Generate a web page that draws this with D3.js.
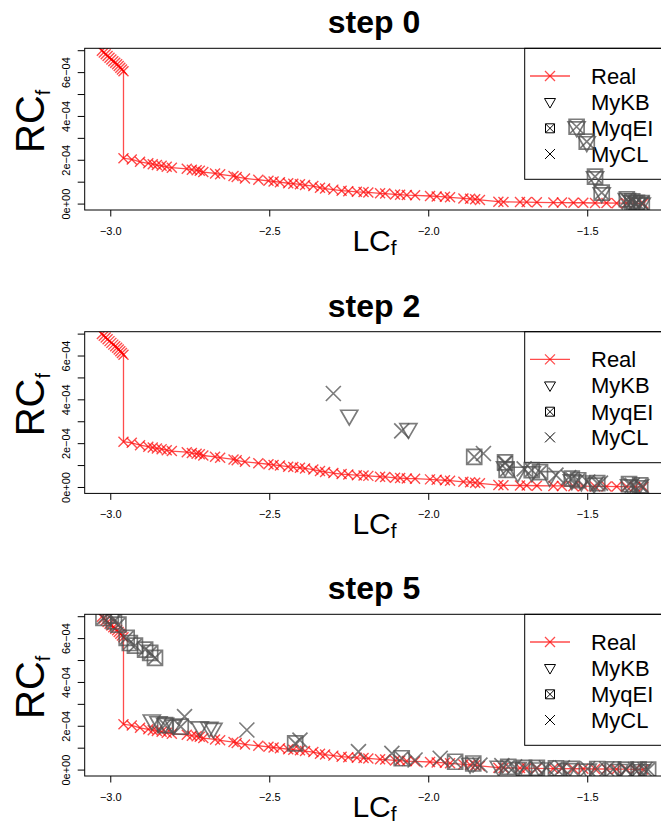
<!DOCTYPE html>
<html>
<head>
<meta charset="utf-8">
<script src="https://cdn.jsdelivr.net/npm/d3@7/dist/d3.min.js"></script>
<style>
  body { margin: 0; background: #fff; }
  svg { display: block; }
</style>
</head>
<body>
<div id="chart"></div>
<script>
// RC values are in units of 1e-04
const realLC = [-3.028, -3.022, -3.016, -3.010, -3.004, -2.998, -2.992, -2.986, -2.980, -2.975, -2.970, -2.965, -2.960,
  -2.960, -2.934, -2.908, -2.882, -2.868, -2.855, -2.840, -2.824, -2.808, -2.761, -2.745, -2.730, -2.720, -2.709,
  -2.672, -2.656, -2.614, -2.604, -2.578, -2.536, -2.504, -2.488, -2.468, -2.442, -2.426, -2.405, -2.389, -2.363,
  -2.342, -2.326, -2.300, -2.274, -2.253, -2.226, -2.205, -2.190, -2.153, -2.137, -2.106, -2.090, -2.069, -2.043,
  -1.996, -1.975, -1.949, -1.933, -1.891, -1.870, -1.854, -1.839, -1.781, -1.765, -1.713, -1.692, -1.660, -1.608,
  -1.581, -1.545, -1.514, -1.477, -1.441, -1.409, -1.378, -1.351, -1.325];
const realRC = [7.00, 6.92, 6.84, 6.76, 6.68, 6.60, 6.52, 6.45, 6.38, 6.30, 6.22, 6.14, 6.06,
  2.09, 2.04, 1.93, 1.86, 1.82, 1.78, 1.75, 1.70, 1.66, 1.61, 1.57, 1.54, 1.52, 1.46,
  1.40, 1.36, 1.28, 1.24, 1.17, 1.11, 1.06, 1.03, 1.00, 0.95, 0.93, 0.90, 0.87, 0.82,
  0.75, 0.71, 0.66, 0.61, 0.59, 0.56, 0.55, 0.53, 0.49, 0.48, 0.44, 0.43, 0.41, 0.40,
  0.37, 0.35, 0.33, 0.31, 0.26, 0.24, 0.22, 0.19, 0.11, 0.10, 0.09, 0.09, 0.08, 0.07,
  0.07, 0.06, 0.06, 0.05, 0.05, 0.04, 0.04, 0.03, 0.03];

// step 0
const step0KB = [[-1.535, 3.53], [-1.503, 2.85], [-1.477, 1.25], [-1.456, 0.52], [-1.377, 0.25], [-1.360, 0.15], [-1.345, 0.08], [-1.330, 0.05]];
const step0qEI = [[-1.535, 3.53], [-1.503, 2.85], [-1.477, 1.25], [-1.456, 0.52], [-1.377, 0.22], [-1.360, 0.12], [-1.345, 0.06], [-1.330, 0.04]];
const step0CL = [[-1.370, 0.10], [-1.350, 0.05], [-1.330, 0.03]];

// step 2
const step2KB = [[-2.250, 3.30], [-2.064, 2.69], [-1.760, 0.95], [-1.720, 0.70], [-1.676, 0.72], [-1.620, 0.50], [-1.550, 0.35], [-1.520, 0.30], [-1.480, 0.20], [-1.370, 0.12], [-1.340, 0.08]];
const step2qEI = [[-1.857, 1.40], [-1.760, 1.15], [-1.755, 0.80], [-1.676, 0.79], [-1.650, 0.70], [-1.550, 0.40], [-1.530, 0.33], [-1.470, 0.20], [-1.370, 0.15], [-1.335, 0.10]];
const step2CL = [[-2.300, 4.29], [-2.085, 2.58], [-1.828, 1.55], [-1.760, 1.10], [-1.700, 0.85], [-1.600, 0.56], [-1.560, 0.45], [-1.500, 0.25], [-1.460, 0.20], [-1.360, 0.10], [-1.330, 0.05]];

// step 5
const step5KB = [[-2.871, 2.29], [-2.850, 2.21], [-2.829, 2.14], [-2.803, 2.06], [-2.720, 1.98], [-2.690, 1.95], [-2.677, 1.91], [-1.870, 0.31], [-1.780, 0.18], [-1.720, 0.12], [-1.650, 0.10], [-1.560, 0.07], [-1.500, 0.05], [-1.400, 0.03], [-1.330, 0.02]];
const step5qEI = [[-3.023, 6.95], [-3.000, 7.05], [-2.990, 6.79], [-2.976, 6.64], [-2.950, 6.03], [-2.940, 5.80], [-2.924, 5.68], [-2.892, 5.50], [-2.876, 5.35], [-2.861, 5.12], [-2.829, 2.05], [-2.780, 1.98], [-2.420, 1.22], [-2.085, 0.54], [-1.917, 0.38], [-1.860, 0.30], [-1.750, 0.15], [-1.700, 0.10], [-1.660, 0.10], [-1.600, 0.08], [-1.550, 0.06], [-1.470, 0.05], [-1.420, 0.03], [-1.380, 0.02], [-1.340, 0.02], [-1.310, 0.02]];
const step5CL = [[-2.768, 2.44], [-2.572, 1.83], [-2.405, 1.37], [-2.221, 0.84], [-2.116, 0.76], [-2.043, 0.46], [-1.964, 0.54], [-1.839, 0.23], [-1.770, 0.20], [-1.730, 0.15], [-1.630, 0.10], [-1.580, 0.10], [-1.500, 0.06], [-1.440, 0.05], [-1.380, 0.03], [-1.350, 0.02], [-1.320, 0.02]];

const panelTitles = ['step 0', 'step 2', 'step 5'];
const xTicks = [-3.0, -2.5, -2.0, -1.5];
const yTicks = [0, 1, 2, 3, 4, 5, 6, 7];
const yLabelTicks = [0, 2, 4, 6];
const legendNames = ['Real', 'MyKB', 'MyqEI', 'MyCL'];

const panels = [
  { title: panelTitles[0], kb: step0KB, qei: step0qEI, cl: step0CL },
  { title: panelTitles[1], kb: step2KB, qei: step2qEI, cl: step2CL },
  { title: panelTitles[2], kb: step5KB, qei: step5qEI, cl: step5CL },
];

const W = 661, H = 826;
const FONT = '"Liberation Sans", Arial, Helvetica, sans-serif';
const panelTops = [48.3, 331.7, 614.3];
const plotH = 161.7;
const left = 84.7, right = 663.4;
const GRAY = 'rgba(80,80,80,0.75)';
const RED = 'rgba(255,0,0,0.7)';

// marker shapes (R pch 4, 6, 7)
function crossPath(s) { const h = s / 2; return `M${-h},${-h}L${h},${h}M${-h},${h}L${h},${-h}`; }
function triDownPath(w) {
  const r = w / Math.sqrt(3);
  return `M${-w / 2},${-r / 2}L${w / 2},${-r / 2}L0,${r}Z`;
}
function boxCrossPath(s) {
  const h = s / 2;
  return `M${-h},${-h}H${h}V${h}H${-h}Z` + crossPath(s);
}

const svg = d3.select('#chart').append('svg')
  .attr('width', W).attr('height', H)
  .style('background', '#fff');

const x = d3.scaleLinear().domain([-3.082, -1.262]).range([left, right]);

panels.forEach((p, i) => {
  const top = panelTops[i];
  const bottom = top + plotH;
  const y = d3.scaleLinear().domain([-0.27, 7.11]).range([bottom, top]);
  const g = svg.append('g');

  const clipId = 'clip' + i;
  g.append('clipPath').attr('id', clipId)
    .append('rect').attr('x', left).attr('y', top).attr('width', right - left).attr('height', plotH);

  // title
  g.append('text').attr('x', (left + right) / 2).attr('y', top - 15)
    .attr('text-anchor', 'middle').style('font-family', FONT)
    .style('font-size', '32px').style('font-weight', 'bold').text(p.title);

  // x axis
  xTicks.forEach(t => {
    g.append('line').attr('x1', x(t)).attr('x2', x(t)).attr('y1', bottom).attr('y2', bottom + 6.5)
      .attr('stroke', '#000').attr('stroke-width', 1);
    g.append('text').attr('x', x(t)).attr('y', bottom + 25).attr('text-anchor', 'middle')
      .style('font-family', FONT).style('font-size', '11px').text(d3.format('.1f')(t).replace('-', '\u2212'));
  });

  // y axis
  yTicks.forEach(t => {
    g.append('line').attr('x1', left - 7).attr('x2', left).attr('y1', y(t)).attr('y2', y(t))
      .attr('stroke', '#000').attr('stroke-width', 1);
  });
  yLabelTicks.forEach(t => {
    g.append('text').attr('transform', `translate(70,${y(t)}) rotate(-90)`)
      .attr('text-anchor', 'middle').style('font-family', FONT).style('font-size', '11px')
      .text(t === 0 ? '0e+00' : t + 'e\u221204');
  });

  // axis titles
  const yl = g.append('text').attr('transform', `translate(43.5,${top + 73}) rotate(-90)`)
    .attr('text-anchor', 'middle').style('font-family', FONT);
  yl.append('tspan').style('font-size', '40px').text('RC');
  yl.append('tspan').style('font-size', '20px').attr('dy', 6).text('f');

  const xl = g.append('text').attr('x', 374.5).attr('y', bottom + 40.5)
    .attr('text-anchor', 'middle').style('font-family', FONT);
  xl.append('tspan').style('font-size', '30px').text('LC');
  xl.append('tspan').style('font-size', '21px').attr('dy', 4).text('f');

  // legend
  const lg = g.append('g');
  lg.append('rect').attr('x', 524.7).attr('y', top).attr('width', 160).attr('height', 131)
    .attr('fill', 'none').attr('stroke', '#000').attr('stroke-width', 1);
  const rowY = [27.7, 53.4, 80, 105.7];
  legendNames.forEach((name, k) => {
    const cy = top + rowY[k];
    lg.append('text').attr('x', 591).attr('y', cy + 8).style('font-family', FONT)
      .style('font-size', '22px').text(name);
  });
  lg.append('line').attr('x1', 530).attr('x2', 570).attr('y1', top + rowY[0]).attr('y2', top + rowY[0])
    .attr('stroke', RED).attr('stroke-width', 1.3);
  lg.append('path').attr('d', crossPath(10)).attr('transform', `translate(550,${top + rowY[0]})`)
    .attr('fill', 'none').attr('stroke', RED).attr('stroke-width', 1.3);
  lg.append('path').attr('d', triDownPath(11)).attr('transform', `translate(550,${top + rowY[1]})`)
    .attr('fill', 'none').attr('stroke', '#000').attr('stroke-width', 1);
  lg.append('path').attr('d', boxCrossPath(9)).attr('transform', `translate(550,${top + rowY[2]})`)
    .attr('fill', 'none').attr('stroke', '#000').attr('stroke-width', 1);
  lg.append('path').attr('d', crossPath(10)).attr('transform', `translate(550,${top + rowY[3]})`)
    .attr('fill', 'none').attr('stroke', '#000').attr('stroke-width', 1);

  // data
  const plot = g.append('g').attr('clip-path', `url(#${clipId})`);
  const line = d3.line().x(d => x(realLC[d])).y(d => y(realRC[d]));
  plot.append('path').attr('d', line(d3.range(realLC.length)))
    .attr('fill', 'none').attr('stroke', RED).attr('stroke-width', 1.3);
  plot.selectAll('path.real').data(d3.range(realLC.length)).join('path').attr('class', 'real')
    .attr('d', crossPath(10))
    .attr('transform', d => `translate(${x(realLC[d])},${y(realRC[d])})`)
    .attr('fill', 'none').attr('stroke', RED).attr('stroke-width', 1.4);

  plot.selectAll('path.kb').data(p.kb).join('path').attr('class', 'kb')
    .attr('d', triDownPath(17))
    .attr('transform', d => `translate(${x(d[0])},${y(d[1])})`)
    .attr('fill', 'none').attr('stroke', GRAY).attr('stroke-width', 1.7);
  plot.selectAll('path.qei').data(p.qei).join('path').attr('class', 'qei')
    .attr('d', boxCrossPath(15))
    .attr('transform', d => `translate(${x(d[0])},${y(d[1])})`)
    .attr('fill', 'none').attr('stroke', GRAY).attr('stroke-width', 1.7);
  plot.selectAll('path.cl').data(p.cl).join('path').attr('class', 'cl')
    .attr('d', crossPath(15))
    .attr('transform', d => `translate(${x(d[0])},${y(d[1])})`)
    .attr('fill', 'none').attr('stroke', GRAY).attr('stroke-width', 1.7);

  // box
  g.append('rect').attr('x', left).attr('y', top).attr('width', right - left).attr('height', plotH)
    .attr('fill', 'none').attr('stroke', '#000').attr('stroke-width', 1);
});
</script>
</body>
</html>
